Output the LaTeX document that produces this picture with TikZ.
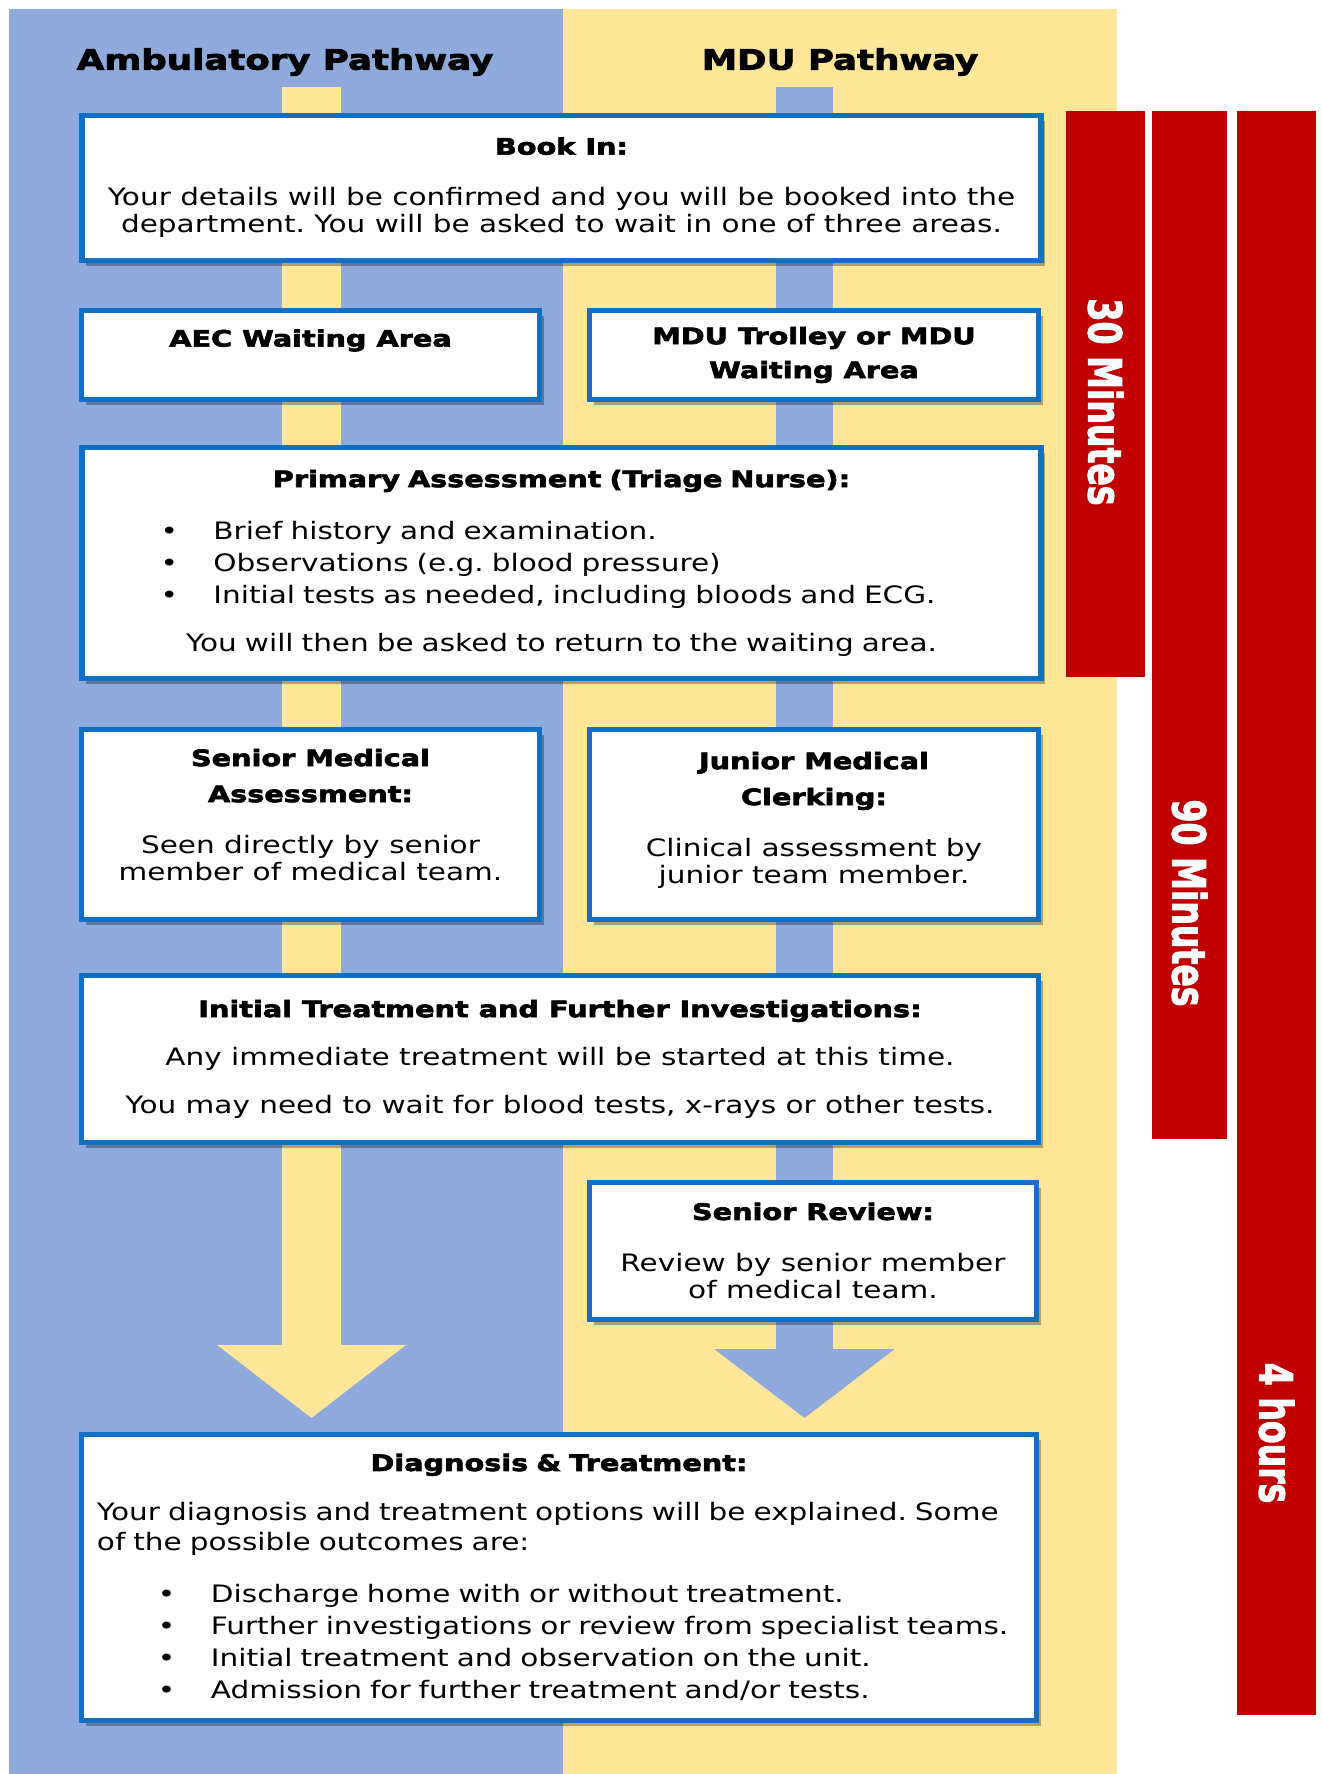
\documentclass[tikz,border=0pt]{standalone}
\usepackage{fontspec}
\setmainfont[FakeStretch=1.23]{DejaVu Sans}
\newfontfamily\headfam[FakeStretch=1.27,FakeBold=3]{DejaVu Sans}
\newfontfamily\barfam[FakeStretch=0.72,FakeBold=2]{DejaVu Sans}
\usepackage{xcolor}
\usepackage{tikz}
\usetikzlibrary{arrows.meta,shadows}
\definecolor{PWBlue}{HTML}{8FAADC}
\definecolor{PWYellow}{HTML}{FFE699}
\definecolor{PWFrame}{HTML}{1170C4}
\definecolor{PWRed}{HTML}{C00000}
\setlength{\parindent}{0pt}
\frenchspacing
\newcommand\bodyfont{\fontsize{12}{16}\selectfont}
\newcommand\headfont{\headfam\bfseries\fontsize{11.3}{16}\selectfont}
\newcommand\bulitem{\hspace*{30.5pt}\makebox[26.5pt][l]{\textbullet}}
\pgfdeclarelayer{paper}
\pgfdeclarelayer{strips}
\pgfsetlayers{paper,strips,main}
\tikzset{
  stepbox/.style={draw=PWFrame,line width=2.8pt,fill=white,inner sep=2pt,font=\bodyfont,
    drop shadow={shadow xshift=2pt,shadow yshift=-2.5pt,opacity=0.3,fill=black}},
  lstrip/.style={draw=PWYellow,line width=29.5pt},
  rstrip/.style={draw=PWBlue,line width=28.5pt},
  pathtitle/.style={font=\headfam\bfseries\fontsize{14}{16}\selectfont},
  bartext/.style={rotate=-90,text=white,font=\barfam\bfseries\fontsize{23}{26}\selectfont}
}
\begin{document}
\begin{tikzpicture}[x=0.5pt,y=-0.5pt]
\path[use as bounding box] (0,0) rectangle (1322,1774);
\begin{pgfonlayer}{paper}
\fill[white] (0,0) rectangle (1322,1774);
\fill[PWBlue] (9,9) rectangle (563,1774);
\fill[PWYellow] (563,9) rectangle (1117,1774);
\end{pgfonlayer}
% column titles
\node[pathtitle] (ambtitle) at (285,62) {Ambulatory Pathway};
\node[pathtitle] (mdutitle) at (840,62) {MDU Pathway};
\coordinate (lcol) at (311.5,87);
\coordinate (rcol) at (804.5,87);
\coordinate (ltip) at (311.5,1418);
\coordinate (rtip) at (804.5,1418);
% steps
\node[stepbox,minimum width=479.5pt,minimum height=72.5pt,align=center] (bookin) at (561.5,188)
  {{\headfont Book In:}\\[9.5pt]Your details will be confirmed and you will be booked into the\\[-2.5pt]department. You will be asked to wait in one of three areas.\\[-13pt]\mbox{}};
\node[stepbox,minimum width=229pt,minimum height=44.5pt,align=center,font=\headfont] (aec) at (310.5,355)
  {AEC Waiting Area\\[1pt]\mbox{}};
\node[stepbox,minimum width=224.5pt,minimum height=44.5pt,align=center,font=\headfont] (trolley) at (814,355)
  {MDU Trolley or MDU\\[1pt]Waiting Area};
\node[stepbox,minimum width=479.5pt,minimum height=115.5pt,text width=462pt] (primary) at (561.5,563) {%
  {\centering\headfont Primary Assessment (Triage Nurse):\par}
  \vspace{10pt}
  {\raggedright
  \bulitem Brief history and examination.\par
  \bulitem Observations (e.g. blood pressure)\par
  \bulitem Initial tests as needed, including bloods and ECG.\par}
  \vspace{8pt}
  {\centering You will then be asked to return to the waiting area.\par}
  \vspace{2pt}};
\node[stepbox,minimum width=229pt,minimum height=95pt,align=center] (senior) at (310.5,824.5)
  {{\headfont Senior Medical}\\[2pt]{\headfont Assessment:}\\[9.5pt]Seen directly by senior\\[-2.5pt]member of medical team.\\[-6pt]\mbox{}};
\node[stepbox,minimum width=224.5pt,minimum height=95pt,align=center] (junior) at (814,824.5)
  {{\headfont Junior Medical}\\[2pt]{\headfont Clerking:}\\[9.5pt]Clinical assessment by\\[-2.5pt]junior team member.\\[-9pt]\mbox{}};
\node[stepbox,minimum width=478.5pt,minimum height=83.5pt,align=center] (initial) at (560,1059)
  {{\headfont Initial Treatment and Further Investigations:}\\[8pt]Any immediate treatment will be started at this time.\\[8pt]You may need to wait for blood tests, x-rays or other tests.};
\node[stepbox,minimum width=223.5pt,minimum height=68.5pt,align=center] (review) at (813,1251)
  {{\headfont Senior Review:}\\[10pt]Review by senior member\\[-2.5pt]of medical team.};
\node[stepbox,minimum width=477.5pt,minimum height=143pt,text width=462pt] (diagnosis) at (559,1577.5) {%
  {\centering\headfont Diagnosis \& Treatment:\par}
  \vspace{9pt}
  {\raggedright Your diagnosis and treatment options will be explained. Some\\[-1pt]of the possible outcomes are:\par}
  \vspace{10pt}
  {\raggedright
  \bulitem Discharge home with or without treatment.\par
  \bulitem Further investigations or review from specialist teams.\par
  \bulitem Initial treatment and observation on the unit.\par
  \bulitem Admission for further treatment and/or tests.\par}};
% pathway strips behind the steps
\begin{pgfonlayer}{strips}
\draw[lstrip] (lcol) -- (bookin.north -| lcol);
\draw[lstrip] (bookin.south -| lcol) -- (aec.north -| lcol);
\draw[lstrip] (aec.south -| lcol) -- (primary.north -| lcol);
\draw[lstrip] (primary.south -| lcol) -- (senior.north -| lcol);
\draw[lstrip] (senior.south -| lcol) -- (initial.north -| lcol);
\draw[lstrip,-{Triangle[width=92.5pt,length=36.5pt]}] (initial.south -| lcol) -- (ltip);
\draw[rstrip] (rcol) -- (bookin.north -| rcol);
\draw[rstrip] (bookin.south -| rcol) -- (trolley.north -| rcol);
\draw[rstrip] (trolley.south -| rcol) -- (primary.north -| rcol);
\draw[rstrip] (primary.south -| rcol) -- (junior.north -| rcol);
\draw[rstrip] (junior.south -| rcol) -- (initial.north -| rcol);
\draw[rstrip] (initial.south -| rcol) -- (review.north -| rcol);
\draw[rstrip,-{Triangle[width=88.5pt,length=34.5pt]}] (review.south -| rcol) -- (rtip);
\end{pgfonlayer}
% time bars
\fill[PWRed] (1066,111) rectangle (1145,677);
\fill[PWRed] (1152,111) rectangle (1227,1139);
\fill[PWRed] (1237,111) rectangle (1316,1715);
\node[bartext] (min30) at (1105.5,402) {30 Minutes};
\node[bartext] (min90) at (1189.5,903) {90 Minutes};
\node[bartext] (hours4) at (1276.5,1433) {4 hours};
\end{tikzpicture}
\end{document}
